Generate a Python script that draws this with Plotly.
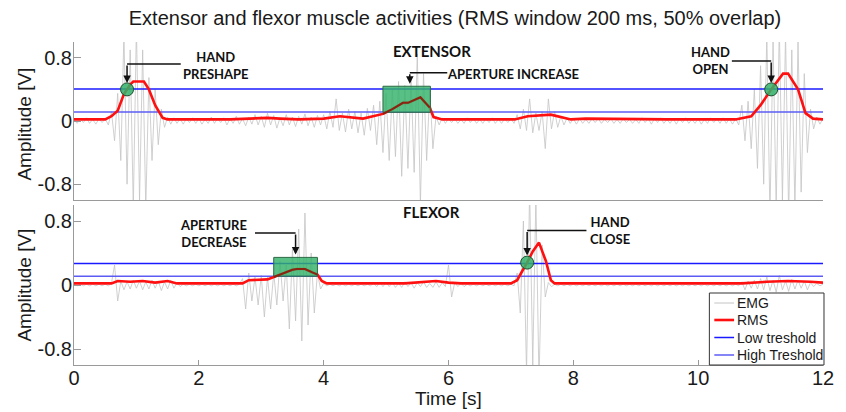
import plotly.graph_objects as go

# ---------------- data ----------------
emg_dt = 0.05  # s between EMG samples shown

ext_emg = (
    [0.02,-0.03,0.03,-0.02,0.04,-0.03,0.02,-0.04,0.03,-0.02,0.03,-0.05,0.12,-0.25,0.35,-0.5,1.1,-0.8,0.9,-1.1]
  + [1.2,-1.0,0.9,-1.1,0.55,-0.5,0.4,-0.3,0.15,-0.08,0.05,-0.04,0.04,-0.03,0.03,-0.04,0.03,-0.02,0.04,-0.03]
  + [0.03,-0.04,0.02,-0.03,0.05,-0.03,0.03,-0.02,0.04,-0.05,0.03,-0.03,0.06,-0.04,0.03,-0.06,0.05,-0.04,0.08,-0.05]
  + [0.06,-0.08,0.1,-0.05,0.07,-0.09,0.04,-0.06,0.08,-0.05,0.05,-0.07,0.06,-0.04,0.09,-0.06,0.05,-0.08,0.07,-0.05]
  + [0.08,-0.1,0.12,-0.08,0.28,-0.12,0.1,-0.14,0.15,-0.1,0.12,-0.15,0.1,-0.18,0.16,-0.12,0.2,-0.3,0.25,-0.4]
  + [0.35,-0.5,0.4,-0.45,0.5,-0.7,0.45,-0.6,0.55,-0.65,0.85,-1.05,0.6,-0.5,0.4,-0.35,0.06,-0.05,0.04,-0.03]
  + [0.03,-0.02,0.03,-0.03,0.02,-0.03,0.04,-0.02,0.03,-0.03,0.02,-0.03,0.03,-0.02,0.04,-0.03,0.02,-0.03,0.03,-0.02]
  + [0.03,-0.03,0.08,-0.1,0.15,-0.12,0.28,-0.15,0.1,-0.12,0.12,-0.35,0.28,-0.1,0.12,-0.08,0.06,-0.05,0.04,-0.03]
  + [0.03,-0.04,0.03,-0.03,0.02,-0.03,0.03,-0.02,0.03,-0.03,0.02,-0.02,0.03,-0.03,0.02,-0.03,0.03,-0.02,0.02,-0.03]
  + [0.02,-0.03,0.04,-0.02,0.03,-0.04,0.03,-0.02,0.04,-0.03,0.02,-0.03,0.03,-0.04,0.03,-0.02,0.04,-0.03,0.02,-0.03]
  + [0.03,-0.04,0.02,-0.03,0.04,-0.02,0.03,-0.03,0.04,-0.03,0.03,-0.04,0.03,-0.05,0.2,-0.25,0.25,-0.35,0.4,-0.6]
  + [0.7,-0.8,1.1,-1.2,1.0,-1.1,1.2,-1.0,1.1,-1.2,0.9,-1.1,1.0,-0.9,0.6,-0.4,0.15,-0.1,0.05,-0.04]
  + [0.03]
)

flx_emg = (
    [0.01,-0.01,0.01,-0.01,0.01,-0.01,0.01,-0.01,0.01,-0.01,0.01,-0.01,0.02,0.25,-0.2,0.05,-0.06,0.04,-0.05,0.06]
  + [-0.04,0.05,-0.06,0.04,-0.05,0.06,-0.04,0.05,-0.07,0.04,-0.05,0.06,-0.04,0.03,-0.02,0.01,-0.01,0.01,-0.01,0.01]
  + [-0.01,0.01,-0.01,0.01,-0.01,0.01,-0.01,0.01,-0.01,0.01,-0.01,0.01,-0.01,0.01,0.08,-0.3,0.15,-0.2,0.1,-0.25]
  + [0.12,-0.4,0.1,-0.3,0.15,-0.25,0.3,-0.2,0.25,-0.55,0.45,-0.45,0.7,-0.7,0.9,-0.5,0.4,-0.35,0.15,-0.05]
  + [0.02,-0.01,0.01,-0.01,0.01,-0.01,0.01,-0.01,0.01,-0.01,0.01,-0.01,0.01,-0.01,0.01,-0.01,0.02,-0.02,0.03,-0.02]
  + [0.03,-0.02,0.03,-0.03,0.02,-0.03,0.04,-0.02,0.03,-0.04,0.03,-0.02,0.04,-0.03,0.02,-0.03,0.04,-0.03,0.03,-0.02]
  + [0.25,-0.15,0.03,-0.02,0.02,-0.02,0.01,-0.01,0.01,-0.01,0.01,-0.01,0.01,-0.01,0.01,-0.01,0.01,-0.01,0.01,-0.01]
  + [0.01,-0.01,0.15,-0.35,0.8,-1.1,1.2,-1.0,1.1,-1.2,0.5,-0.15,0.03,-0.02,0.01,-0.01,0.01,-0.01,0.01,-0.01]
  + [0.01,-0.01,0.01,-0.01,0.01,-0.01,0.01,-0.01,0.01,-0.01,0.01,-0.01,0.01,-0.01,0.01,-0.01,0.01,-0.01,0.01,-0.01]
  + [0.01,-0.01,0.01,-0.01,0.01,-0.01,0.01,-0.01,0.01,-0.01,0.01,-0.01,0.01,-0.01,0.01,-0.01,0.01,-0.01,0.01,-0.01]
  + [0.01,-0.01,0.01,-0.01,0.01,-0.01,0.01,-0.01,0.01,-0.01,0.01,-0.01,0.01,-0.01,0.04,-0.06,0.05,-0.04,0.06,-0.05]
  + [0.08,-0.06,0.1,-0.07,0.06,-0.09,0.12,-0.06,0.05,-0.08,0.07,-0.05,0.06,-0.04,0.05,-0.06,0.03,-0.02,0.02,-0.01]
  + [0.01]
)

ext_rms_t = [0,0.5,0.6,0.7,0.8,0.9,0.95,1.12,1.2,1.3,1.42,1.5,2.5,2.9,3.1,3.3,3.6,4.0,4.26,4.63,4.95,5.1,5.27,5.35,5.55,5.7,5.76,5.9,6.2,7.06,7.27,7.45,7.64,7.96,8.2,9.5,10.6,10.85,11.0,11.17,11.36,11.44,11.6,11.72,11.84,12.0]
ext_rms_v = [0.02,0.02,0.06,0.13,0.34,0.46,0.5,0.5,0.4,0.2,0.04,0.02,0.02,0.03,0.04,0.03,0.02,0.03,0.06,0.03,0.09,0.15,0.23,0.23,0.3,0.17,0.05,0.02,0.02,0.02,0.06,0.07,0.08,0.02,0.03,0.02,0.02,0.06,0.2,0.4,0.6,0.6,0.4,0.1,0.03,0.02]

flx_rms_t = [0,0.6,0.7,0.9,1.1,1.3,1.5,1.65,2.7,2.8,3.1,3.2,3.3,3.5,3.57,3.7,3.81,3.9,3.97,4.05,5.3,5.6,5.8,6.0,6.2,7.0,7.1,7.2,7.26,7.35,7.45,7.56,7.64,7.7,10.7,11.1,11.44,11.8,12.0]
flx_rms_v = [0.02,0.02,0.05,0.04,0.05,0.03,0.05,0.02,0.02,0.06,0.07,0.1,0.13,0.19,0.2,0.2,0.16,0.13,0.05,0.02,0.02,0.04,0.05,0.03,0.02,0.02,0.06,0.2,0.28,0.42,0.53,0.3,0.06,0.02,0.02,0.04,0.05,0.04,0.03]

# thresholds: [extensor, flexor]
upper_thr = [0.405, 0.27]   # "Low treshold"
lower_thr = [0.114, 0.11]   # "High Treshold"

# green activity windows: [extensor, flexor]
win_t0 = [4.95, 3.2]
win_t1 = [5.71, 3.9]
win_y0 = [0.11, 0.11]
win_y1 = [0.44, 0.345]

# detected events (green circles)
evt_t = [0.85, 11.17, 7.26]
evt_v = [0.40, 0.40, 0.28]
evt_ch = [0, 0, 1]

# callout labels
lab_text = ["HAND<br>PRESHAPE", "APERTURE INCREASE", "HAND<br>OPEN", "APERTURE<br>DECREASE", "HAND<br>CLOSE"]
lab_t = [2.28, 7.04, 10.2, 2.24, 8.59]
lab_v = [0.70, 0.60, 0.76, 0.65, 0.68]
lab_ch = [0, 0, 0, 1, 1]
arr_t0 = [1.71, 5.98, 10.54, 2.90, 8.21]   # start of horizontal leader
arr_t1 = [0.85, 5.38, 11.17, 3.55, 7.26]   # corner / arrow x
arr_v = [0.72, 0.61, 0.76, 0.65, 0.68]     # leader height
arr_tip = [0.48, 0.47, 0.48, 0.38, 0.37]   # arrow tip

channel_names = ["EXTENSOR", "FLEXOR"]
chan_lab_t = [5.73, 5.72]
chan_lab_v = [0.88, 0.91]

x_ticks = [0, 2, 4, 6, 8, 10, 12]
y_ticks = [-0.8, 0, 0.8]
y_ticktext = ["-0.8", "0", "0.8"]

# ---------------- styling ----------------
C_EMG = "#c4c4c4"
C_RMS = "#ff1010"
C_RMS_IN = "#8a2410"
C_UP = "#1a1aff"
C_LO = "#5c5cf5"
C_GREEN = "rgba(52,178,106,0.82)"
C_GREEN_LINE = "#2c6a44"
AX = "#9a9a9a"
TXT = "#1a1a1a"
FONT = "Arial, Liberation Sans, sans-serif"

W, H = 846, 412
ML, MR, MT, MB = 74, 14, 42, 47
PW, PH = W - ML - MR, H - MT - MB
top_dom = [(H - MB - 200) / PH, 1.0]
bot_dom = [0.0, (H - MB - 205) / PH]

fig = go.Figure()
emg_t = [round(i * emg_dt, 2) for i in range(len(ext_emg))]

axes = [("x", "y"), ("x2", "y2")]
emg_all = [ext_emg, flx_emg]
rms_t_all = [ext_rms_t, flx_rms_t]
rms_v_all = [ext_rms_v, flx_rms_v]

for ch in range(2):
    xa, ya = axes[ch]
    fig.add_trace(go.Scatter(x=emg_t, y=emg_all[ch], mode="lines",
                             line=dict(color=C_EMG, width=0.8), xaxis=xa, yaxis=ya,
                             showlegend=False, hoverinfo="skip"))
    fig.add_trace(go.Scatter(x=[0, 12], y=[upper_thr[ch]] * 2, mode="lines",
                             line=dict(color=C_UP, width=1.5), xaxis=xa, yaxis=ya,
                             showlegend=False))
    fig.add_trace(go.Scatter(x=[0, 12], y=[lower_thr[ch]] * 2, mode="lines",
                             line=dict(color=C_LO, width=1.5), xaxis=xa, yaxis=ya,
                             showlegend=False))
    fig.add_trace(go.Scatter(x=rms_t_all[ch], y=rms_v_all[ch], mode="lines",
                             line=dict(color=C_RMS, width=2.6), xaxis=xa, yaxis=ya,
                             showlegend=False))
    # green window
    fig.add_trace(go.Scatter(x=[win_t0[ch], win_t1[ch], win_t1[ch], win_t0[ch], win_t0[ch]],
                             y=[win_y0[ch], win_y0[ch], win_y1[ch], win_y1[ch], win_y0[ch]],
                             mode="lines", fill="toself", fillcolor=C_GREEN,
                             line=dict(color=C_GREEN_LINE, width=1), xaxis=xa, yaxis=ya,
                             showlegend=False))
    inside_t = [t for t in rms_t_all[ch] if win_t0[ch] <= t <= win_t1[ch]]
    inside_v = [v for t, v in zip(rms_t_all[ch], rms_v_all[ch]) if win_t0[ch] <= t <= win_t1[ch]]
    fig.add_trace(go.Scatter(x=inside_t, y=inside_v, mode="lines",
                             line=dict(color=C_RMS_IN, width=2), xaxis=xa, yaxis=ya,
                             showlegend=False))
    et = [t for t, c in zip(evt_t, evt_ch) if c == ch]
    ev = [v for v, c in zip(evt_v, evt_ch) if c == ch]
    fig.add_trace(go.Scatter(x=et, y=ev, mode="markers",
                             marker=dict(size=13, color="rgba(52,178,106,0.85)",
                                         line=dict(color="#1f4f30", width=1)),
                             xaxis=xa, yaxis=ya, showlegend=False))

annotations = []
shapes = []
LBL_FONT = dict(family="Lato, Open Sans, sans-serif", size=13, color="#111111")
for i in range(len(lab_text)):
    xa, ya = axes[lab_ch[i]]
    annotations.append(dict(x=lab_t[i], y=lab_v[i], xref=xa, yref=ya, text="<b>" + lab_text[i] + "</b>",
                            showarrow=False, font=LBL_FONT, xanchor="center", yanchor="middle"))
    shapes.append(dict(type="line", xref=xa, yref=ya, x0=arr_t0[i], x1=arr_t1[i],
                       y0=arr_v[i], y1=arr_v[i], line=dict(color="#111111", width=1.5)))
    annotations.append(dict(x=arr_t1[i], y=arr_tip[i], ax=arr_t1[i], ay=arr_v[i],
                            xref=xa, yref=ya, axref=xa, ayref=ya, text="",
                            showarrow=True, arrowhead=2, arrowsize=1, arrowwidth=1.5,
                            arrowcolor="#111111"))
for ch in range(2):
    xa, ya = axes[ch]
    annotations.append(dict(x=chan_lab_t[ch], y=chan_lab_v[ch], xref=xa, yref=ya,
                            text="<b>" + channel_names[ch] + "</b>", showarrow=False,
                            font=dict(family="Lato, Open Sans, sans-serif", size=15, color="#111111"),
                            xanchor="center", yanchor="middle"))

# axis titles
for yc in [124, 285]:
    annotations.append(dict(x=(23 - ML) / PW, y=(H - MB - yc) / PH, xref="paper", yref="paper",
                            text="Amplitude [V]", textangle=-90, showarrow=False,
                            font=dict(family=FONT, size=19, color=TXT),
                            xanchor="center", yanchor="middle"))
annotations.append(dict(x=0.5, y=(H - MB - 399) / PH, xref="paper", yref="paper",
                        text="Time [s]", showarrow=False, font=dict(family=FONT, size=19, color=TXT),
                        xanchor="center", yanchor="middle"))

# manual legend
def px_x(p):
    return (p - ML) / PW

def px_y(p):
    return (H - MB - p) / PH

shapes.append(dict(type="rect", xref="paper", yref="paper", x0=px_x(717), x1=px_x(833),
                   y0=px_y(365), y1=px_y(293), fillcolor="white",
                   line=dict(color="#333333", width=1), layer="above"))
leg_names = ["EMG", "RMS", "Low treshold", "High Treshold"]
leg_cols = [C_EMG, C_RMS, C_UP, C_LO]
leg_w = [1, 2.6, 1.5, 1.5]
leg_y = [303, 320, 337.5, 355]
for nm, col, lw, yy in zip(leg_names, leg_cols, leg_w, leg_y):
    shapes.append(dict(type="line", xref="paper", yref="paper", x0=px_x(722), x1=px_x(742),
                       y0=px_y(yy), y1=px_y(yy), line=dict(color=col, width=lw), layer="above"))
    annotations.append(dict(x=px_x(743), y=px_y(yy), xref="paper", yref="paper", text=nm,
                            showarrow=False, xanchor="left", yanchor="middle",
                            font=dict(family=FONT, size=14, color=TXT)))

common_y = dict(range=[-1, 1], tickvals=y_ticks, ticktext=y_ticktext, ticks="inside", ticklen=7,
                tickcolor=AX, showline=True, linecolor=AX, linewidth=1, showgrid=False,
                zeroline=False, ticklabelstandoff=-3,
                tickfont=dict(family=FONT, size=20, color=TXT))

fig.update_layout(
    width=W, height=H, margin=dict(l=ML, r=MR, t=MT, b=MB),
    plot_bgcolor="white", paper_bgcolor="white",
    title=dict(text="Extensor and flexor muscle activities (RMS window 200 ms, 50% overlap)",
               x=455 / W, xanchor="center", y=1 - 18 / H, yanchor="middle",
               font=dict(family=FONT, size=20, color=TXT)),
    xaxis=dict(domain=[0, 1], range=[0, 12], anchor="y", showline=True, linecolor=AX,
               linewidth=1, ticks="", showticklabels=False, showgrid=False, zeroline=False),
    yaxis=dict(domain=top_dom, anchor="x", **common_y),
    xaxis2=dict(domain=[0, 1], range=[0, 12], anchor="y2", showline=True, linecolor=AX,
                linewidth=1, ticks="inside", ticklen=5, tickcolor=AX, tickvals=x_ticks,
                showgrid=False, zeroline=False, ticklabelstandoff=-5,
                tickfont=dict(family=FONT, size=20, color=TXT)),
    yaxis2=dict(domain=bot_dom, anchor="x2", **common_y),
    annotations=annotations, shapes=shapes, showlegend=False,
)

fig.write_html("out.html")
